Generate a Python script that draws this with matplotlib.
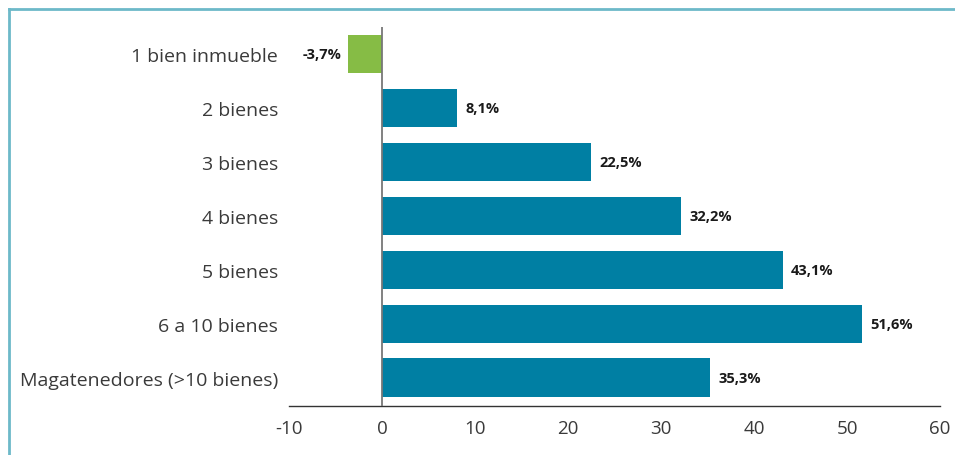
import matplotlib
matplotlib.use("Agg")
import matplotlib.pyplot as plt
from matplotlib.lines import Line2D

categories = ["1 bien inmueble", "2 bienes", "3 bienes", "4 bienes", "5 bienes",
              "6 a 10 bienes", "Magatenedores (>10 bienes)"]
values = [-3.7, 8.1, 22.5, 32.2, 43.1, 51.6, 35.3]
labels = ["-3,7%", "8,1%", "22,5%", "32,2%", "43,1%", "51,6%", "35,3%"]
xticks = [-10, 0, 10, 20, 30, 40, 50, 60]

plt.rcParams['font.family'] = ['Open Sans', 'DejaVu Sans']

W, H = 955, 456
fig = plt.figure(figsize=(W / 100, H / 100), dpi=100)
ax = fig.add_axes([289 / W, 1 - 407 / H, (940 - 289) / W, (407 - 28) / H])

blue = "#007fa3"
green = "#86bc45"
colors = [green if v < 0 else blue for v in values]
y = list(range(len(categories)))
ax.barh(y, values, height=0.72, color=colors, zorder=2)

for yi, v, lab in zip(y, values, labels):
    if v < 0:
        ax.text(v - 0.65, yi, lab, ha="right", va="center", fontsize=10.5,
                fontweight="bold", color="#1a1a1a")
    else:
        ax.text(v + 0.9, yi, lab, ha="left", va="center", fontsize=10.5,
                fontweight="bold", color="#1a1a1a")

ax.set_xlim(-10, 60)
ax.set_ylim(6.52, -0.5)
ax.set_xticks(xticks)
ax.set_xticklabels([str(t) for t in xticks], fontsize=13.5, color="#3a3a3a")
ax.set_yticks(y)
ax.set_yticklabels(categories, fontsize=14, color="#3a3a3a")
ax.tick_params(axis="x", length=0, pad=9)
ax.tick_params(axis="y", length=0, pad=8)
ax.axvline(0, color="#777777", lw=1.3, zorder=3)

for s in ["top", "right", "left"]:
    ax.spines[s].set_visible(False)
ax.spines["bottom"].set_color("#333333")
ax.spines["bottom"].set_linewidth(1.0)

# frame lines (top and left)
frame = "#6db9c9"
fig.add_artist(Line2D([9 / W, 9 / W], [1 - 10 / H, 0], transform=fig.transFigure,
                      color=frame, lw=2))
fig.add_artist(Line2D([9 / W, 1], [1 - 10 / H, 1 - 10 / H], transform=fig.transFigure,
                      color=frame, lw=2))

fig.savefig("out.png", dpi=100)
